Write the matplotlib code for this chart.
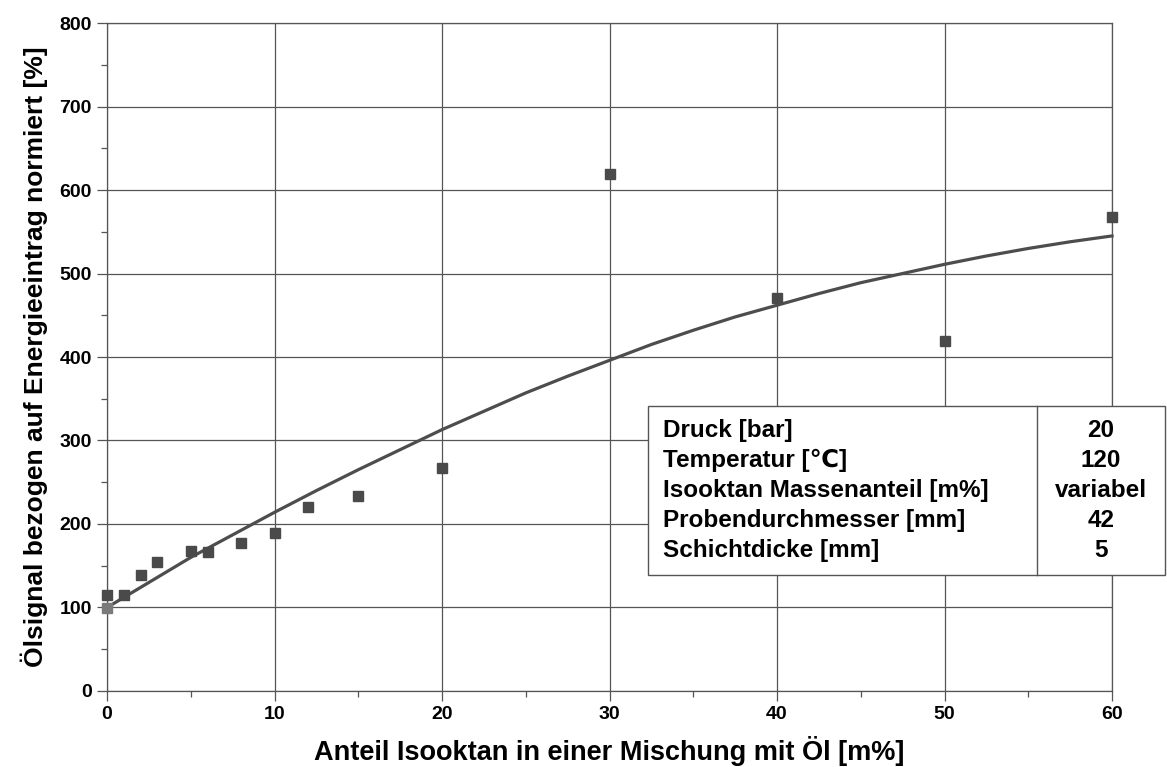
import matplotlib.pyplot as plt
from matplotlib.ticker import MultipleLocator

plt.rcParams['font.family'] = ['Liberation Sans', 'DejaVu Sans']
plt.rcParams['font.weight'] = 'bold'

# measured points
anteil = [0, 1, 2, 3, 5, 6, 8, 10, 12, 15, 20, 30, 40, 50, 60]
signal = [115, 115, 139, 154, 168, 166, 177, 189, 220, 233, 267, 619, 471, 419, 568]

# reference point (0 % isooctane)
ref_x = [0]
ref_y = [99]

# trend curve
trend_x = [0, 2.5, 5, 7.5, 10, 12.5, 15, 17.5, 20, 22.5, 25, 27.5, 30, 32.5, 35,
           37.5, 40, 42.5, 45, 47.5, 50, 52.5, 55, 57.5, 60]
trend_y = [100, 130, 160, 187, 214, 240, 265, 289, 313, 335, 357, 377, 396, 415, 432,
           448, 462, 476, 489, 500, 511, 521, 530, 538, 545]

param_labels = ["Druck [bar]", "Temperatur [\u2103]", "Isooktan Massenanteil [m%]",
                "Probendurchmesser [mm]", "Schichtdicke [mm]"]
param_values = ["20", "120", "variabel", "42", "5"]

fig = plt.figure(figsize=(11.67, 7.67), dpi=100)
ax = fig.add_axes([0.0917, 0.0991, 0.8612, 0.8709])

ax.plot(trend_x, trend_y, color="#4d4d4d", lw=2.3, zorder=3, clip_on=False)
ax.plot(anteil, signal, ls="none", marker="s", ms=6.5, color="#4a4a4a", zorder=4,
        clip_on=False)
ax.plot(ref_x, ref_y, ls="none", marker="s", ms=6.5, color="#7a7a7a", zorder=4,
        clip_on=False)

ax.set_xlim(0, 60)
ax.set_ylim(0, 800)
ax.xaxis.set_major_locator(MultipleLocator(10))
ax.xaxis.set_minor_locator(MultipleLocator(5))
ax.yaxis.set_major_locator(MultipleLocator(100))
ax.yaxis.set_minor_locator(MultipleLocator(50))
ax.grid(True, which="major", color="#555555", lw=0.9)
ax.set_axisbelow(True)
ax.tick_params(which="major", direction="out", length=7, width=0.9, color="#555555",
               labelsize=14, pad=4)
ax.tick_params(which="minor", direction="out", length=4, width=0.9, color="#555555")
for lab in ax.get_xticklabels() + ax.get_yticklabels():
    lab.set_fontweight("bold")
for sp in ax.spines.values():
    sp.set_color("#555555")
    sp.set_linewidth(0.9)

ax.set_xlabel("Anteil Isooktan in einer Mischung mit Öl [m%]", fontsize=19.5,
              fontweight="bold", labelpad=9)
ax.set_ylabel("Ölsignal bezogen auf Energieeintrag normiert [%]", fontsize=19,
              fontweight="bold", labelpad=8)

# parameter box
x0, x1, xd = 0.538, 1.0527, 0.925
y0, y1 = 0.1737, 0.4266
box = plt.Rectangle((x0, y0), x1 - x0, y1 - y0, transform=ax.transAxes,
                    facecolor="white", edgecolor="#555555", lw=1.0, clip_on=False, zorder=5)
ax.add_patch(box)
ax.plot([xd, xd], [y0, y1], transform=ax.transAxes, color="#555555", lw=1.0,
        clip_on=False, zorder=6)
n = len(param_labels)
row_h = 0.0449
y_start = y1 - 0.036
for i in range(n):
    yy = y_start - i * row_h
    ax.text(x0 + 0.015, yy, param_labels[i], transform=ax.transAxes, fontsize=17.5,
            fontweight="bold", va="center", ha="left", zorder=7)
    ax.text((xd + x1) / 2, yy, param_values[i], transform=ax.transAxes, fontsize=17.5,
            fontweight="bold", va="center", ha="center", zorder=7)

fig.savefig("out.png", dpi=100)
